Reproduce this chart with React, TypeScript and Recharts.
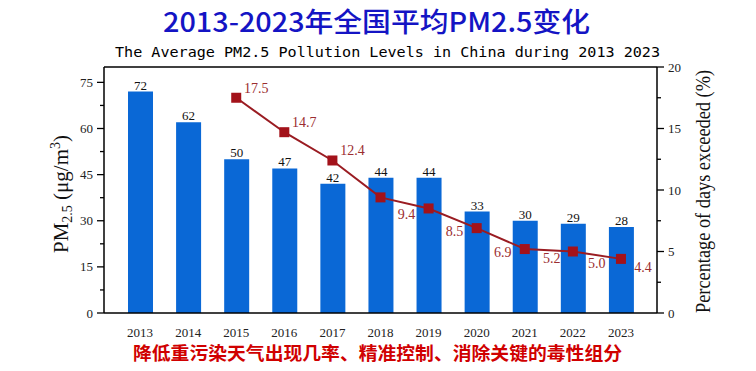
import {
  ComposedChart,
  Bar,
  Line,
  XAxis,
  YAxis,
  LabelList,
  ReferenceLine,
} from "recharts";

const years = ["2013", "2014", "2015", "2016", "2017", "2018", "2019", "2020", "2021", "2022", "2023"];
const pm25 = [72, 62, 50, 47, 42, 44, 44, 33, 30, 29, 28];
const daysExceeded = [null, null, 17.5, 14.7, 12.4, 9.4, 8.5, 6.9, 5.2, 5.0, 4.4];
const pmTicks = [0, 7.5, 15, 22.5, 30, 37.5, 45, 52.5, 60, 67.5, 75];
const pctTicks = [0, 2.5, 5, 7.5, 10, 12.5, 15, 17.5, 20];

// where each red value sits relative to its marker (dx, dy)
const pctLabelNudge = [
  [0, 0], [0, 0], [20, -10], [20, -10], [20, -10],
  [26, 17], [26, 23], [26, 24], [27, 9], [24, 11], [22, 8],
];

const data = years.map((year, i) => ({ year, pm: pm25[i], pct: daysExceeded[i] }));

const SERIF = "'Liberation Serif', 'Times New Roman', serif";
const TICK = 7;
const GAP = 4;

function PmTick({ x, y, payload }: any) {
  const v = payload.value;
  const major = v % 15 === 0;
  const ax = x + TICK + GAP;
  return (
    <g>
      <line x1={ax - (major ? TICK : 4)} x2={ax} y1={y} y2={y} stroke="#000" strokeWidth={1.3} />
      {major && (
        <text x={x} y={y} dy={4.5} textAnchor="end" fontSize={13} fontFamily={SERIF} fill="#222">
          {v}
        </text>
      )}
    </g>
  );
}

function PctTick({ x, y, payload }: any) {
  const v = payload.value;
  const major = v % 5 === 0;
  const ax = x - TICK - GAP;
  return (
    <g>
      <line x1={ax} x2={ax + (major ? TICK : 4)} y1={y} y2={y} stroke="#000" strokeWidth={1.3} />
      {major && (
        <text x={x} y={y} dy={4.5} textAnchor="start" fontSize={13} fontFamily={SERIF} fill="#222">
          {v}
        </text>
      )}
    </g>
  );
}

function SquareDot({ cx, cy, index }: any) {
  if (cx == null || cy == null) return <g key={`d${index}`} />;
  return <rect key={`d${index}`} x={cx - 5} y={cy - 5} width={10} height={10} fill="#a3121a" />;
}

function PctLabel({ x, y, value, index }: any) {
  if (value == null || x == null || y == null) return null;
  const [dx, dy] = pctLabelNudge[index] || [22, 12];
  return (
    <text
      x={x + dx}
      y={y + dy}
      dy={5}
      textAnchor="middle"
      fontSize={14}
      fontFamily={SERIF}
      fill="#9b2d30"
    >
      {Number(value).toFixed(1)}
    </text>
  );
}

export default function App() {
  return (
    <div style={{ position: "absolute", left: 0, top: 0, width: 756, height: 371, background: "#fff" }}>
      <ComposedChart
        width={756}
        height={371}
        data={data}
        margin={{ top: 67, right: 59, bottom: 28, left: 64 }}
      >
        <XAxis
          dataKey="year"
          padding={{ left: 12, right: 12 }}
          axisLine={{ stroke: "#000", strokeWidth: 1.5 }}
          tickLine={false}
          tickMargin={9}
          tick={{ fontSize: 13, fontFamily: SERIF, fill: "#222" }}
          height={30}
        />
        <YAxis
          yAxisId="pm"
          orientation="left"
          width={40}
          domain={[0, 80]}
          ticks={pmTicks}
          interval={0}
          tickSize={TICK}
          tickMargin={GAP}
          axisLine={{ stroke: "#000", strokeWidth: 1.5 }}
          tickLine={{ strokeOpacity: 0 }}
          tick={<PmTick />}
        />
        <YAxis
          yAxisId="pct"
          orientation="right"
          width={40}
          domain={[0, 20]}
          ticks={pctTicks}
          interval={0}
          tickSize={TICK}
          tickMargin={GAP}
          axisLine={{ stroke: "#000", strokeWidth: 1.5 }}
          tickLine={{ strokeOpacity: 0 }}
          tick={<PctTick />}
        />
        <ReferenceLine yAxisId="pm" y={80} stroke="#000" strokeWidth={1.5} />
        <Bar yAxisId="pm" dataKey="pm" fill="#0a68d6" barSize={25} isAnimationActive={false}>
          <LabelList
            dataKey="pm"
            position="top"
            offset={2}
            fill="#111"
            fontSize={13}
            fontFamily={SERIF}
          />
        </Bar>
        <Line
          yAxisId="pct"
          dataKey="pct"
          stroke="#9a1c22"
          strokeWidth={2}
          dot={<SquareDot />}
          activeDot={false}
          isAnimationActive={false}
        >
          <LabelList dataKey="pct" content={<PctLabel />} />
        </Line>
      </ComposedChart>

      <svg
        width={756}
        height={371}
        style={{ position: "absolute", left: 0, top: 0, pointerEvents: "none" }}
      >
        <text
          x={376.5}
          y={32}
          textAnchor="middle"
          fontSize={27}
          fontWeight={500}
          fontFamily="'Noto Sans CJK SC', sans-serif"
          fill="#1414c4"
          textLength={427}
          lengthAdjust="spacingAndGlyphs"
        >
          2013-2023年全国平均PM2.5变化
        </text>
        <text
          x={387.5}
          y={57}
          textAnchor="middle"
          fontSize={14}
          fontFamily="'DejaVu Sans Mono', 'Liberation Mono', monospace"
          fill="#000"
          textLength={545}
          lengthAdjust="spacingAndGlyphs"
        >
          The Average PM2.5 Pollution Levels in China during 2013 2023
        </text>
        <text
          x={377.5}
          y={360}
          textAnchor="middle"
          fontSize={18}
          fontWeight="bold"
          fontFamily="'Noto Sans CJK SC', sans-serif"
          fill="#d00000"
          textLength={489}
          lengthAdjust="spacingAndGlyphs"
        >
          降低重污染天气出现几率、精准控制、消除关键的毒性组分
        </text>
        <text
          transform="translate(68,194) rotate(-90)"
          textAnchor="middle"
          fontSize={21}
          fontFamily={SERIF}
          fill="#111"
        >
          PM
          <tspan dy={4} fontSize={14}>2.5</tspan>
          <tspan dy={-4}>{" (μg/m"}</tspan>
          <tspan dy={-8} fontSize={14}>3</tspan>
          <tspan dy={8}>)</tspan>
        </text>
        <text
          transform="translate(710,191.5) rotate(-90)"
          textAnchor="middle"
          fontSize={20}
          fontFamily={SERIF}
          fill="#111"
          textLength={243}
          lengthAdjust="spacingAndGlyphs"
        >
          Percentage of days exceeded (%)
        </text>
      </svg>
    </div>
  );
}
